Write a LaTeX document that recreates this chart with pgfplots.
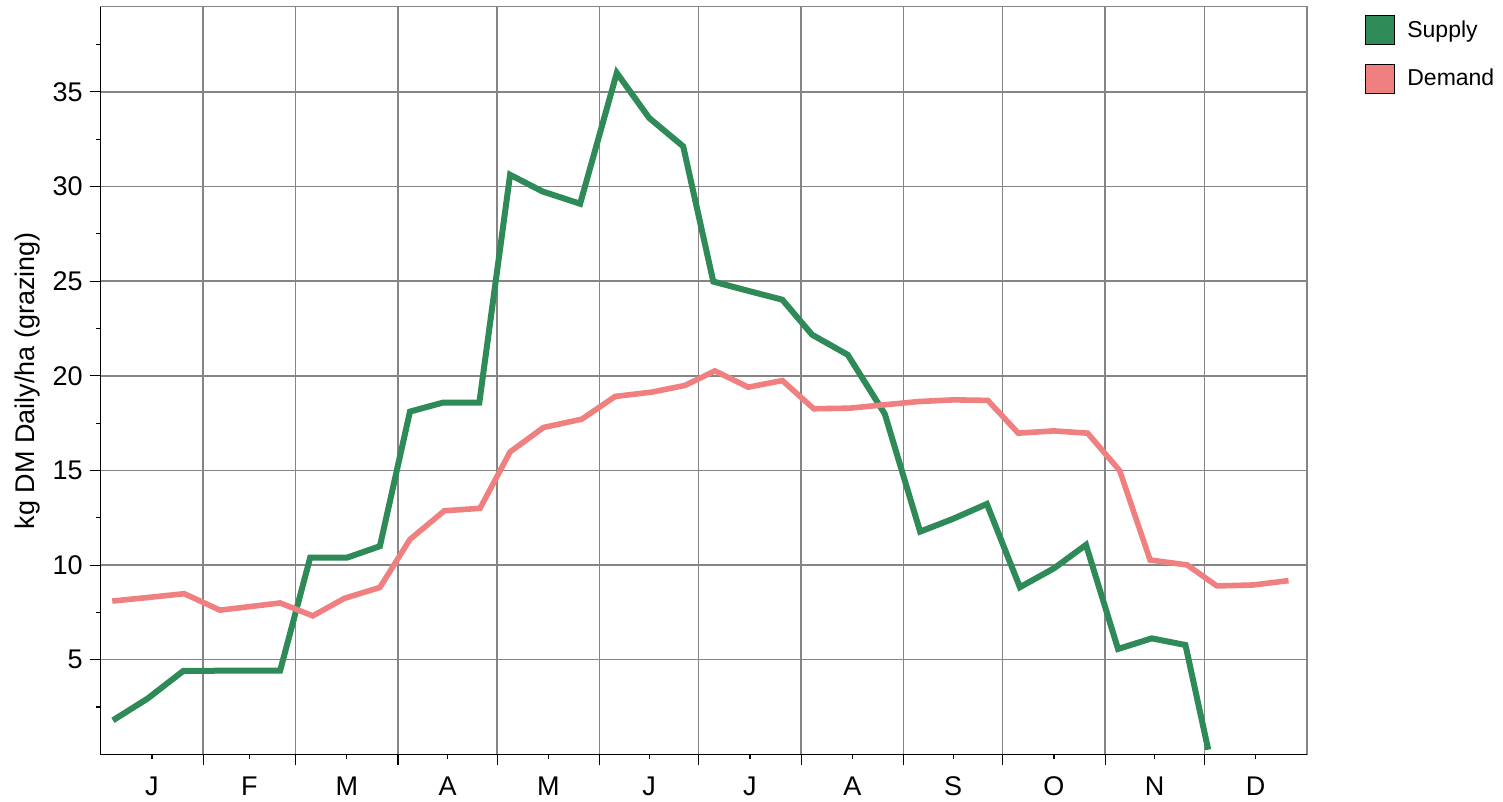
\documentclass[border=0pt]{standalone}
\usepackage{fontspec}
\setmainfont{Liberation Sans}
\usepackage{pgfplots}
\pgfplotsset{compat=1.18}
\definecolor{supply}{RGB}{46,139,87}
\definecolor{demand}{RGB}{240,128,128}
\definecolor{gridgray}{RGB}{133,133,133}
\begin{document}
\begin{tikzpicture}
\useasboundingbox (-50.35pt,-23.8pt) rectangle (701.15pt,377.2pt);
\begin{axis}[
  at={(0,0)}, anchor=south west,
  scale only axis, width=603pt, height=373.85pt,
  xmin=0, xmax=365, ymin=0, ymax=39.5,
  clip=false,
  axis line style={gridgray, line width=0.8pt},
  xtick={31,59,90,120,151,181,212,243,273,304,334},
  xticklabels={},
  extra x ticks={15.5,45,74.5,105,135.5,166,196.5,227.5,258,288.5,319,349.5},
  extra x tick labels={J,F,M,A,M,J,J,A,S,O,N,D},
  extra x tick style={grid=none, major tick length=2.5pt},
  ytick={5,10,...,35},
  minor ytick={2.5,7.5,...,37.5},
  tick align=outside, tick pos=left,
  major tick length=5.5pt, minor tick length=2.5pt,
  tick style={black, line width=0.6pt},
  xmajorgrids, ymajorgrids,
  major grid style={gridgray, line width=0.7pt},
  ticklabel style={font=\fontsize{13.5}{16}\selectfont},
  xticklabel style={yshift=-5pt},
  /pgf/number format/assume math mode=true,
  ylabel={kg DM Daily/ha (grazing)},
  ylabel style={at={(axis description cs:-0.0603,0.5)}, anchor=center, font=\fontsize{13.5}{16}\selectfont},
  legend style={at={(1.0483,0.9889)}, anchor=north west, draw=none, fill=none,
    inner sep=0pt, nodes={inner sep=0pt}, row sep=9.25pt,
    font=\fontsize{11.5}{13}\selectfont,
    /tikz/every odd column/.append style={column sep=6pt}},
  legend cell align=left,
  legend image code/.code={\draw[#1, draw=black, line width=0.5pt, fill] (0pt,-7.25pt) rectangle (14.5pt,7.25pt);},
]
\addplot[supply, line width=3pt] coordinates {
(3.7,1.80) (14.2,2.95) (25.0,4.41) (35.5,4.42) (45.5,4.42) (54.3,4.42)
(63.4,10.39) (74.5,10.39) (84.5,11.00) (93.6,18.11) (103.7,18.59) (114.6,18.59)
(123.9,30.62) (133.7,29.74) (145.1,29.09) (156.2,36.00) (166.0,33.62) (176.3,32.12)
(185.4,24.98) (195.5,24.51) (206.3,24.02) (215.3,22.17) (226.1,21.11) (237.3,17.99)
(248.0,11.77) (257.9,12.44) (268.2,13.23) (278.2,8.83) (288.6,9.84) (298.2,11.07)
(307.9,5.57) (318.1,6.13) (328.3,5.78) (335.2,0.25)
};
\addlegendentry{Supply}
\addplot[demand, line width=2.8pt] coordinates {
(3.5,8.10) (14.3,8.29) (25.3,8.49) (36.1,7.62) (46.2,7.83) (54.3,8.00)
(64.2,7.32) (73.7,8.24) (84.5,8.82) (93.6,11.36) (104.0,12.87) (114.8,13.00)
(123.9,15.98) (134.0,17.27) (145.6,17.71) (155.7,18.91) (166.8,19.14) (176.8,19.49)
(185.9,20.26) (196.0,19.40) (206.3,19.75) (215.8,18.26) (226.6,18.29) (237.3,18.47)
(247.5,18.64) (258.3,18.73) (268.5,18.70) (277.7,16.97) (288.4,17.09) (298.7,16.97)
(308.4,14.99) (317.6,10.27) (328.8,10.01) (337.8,8.90) (348.8,8.95) (359.5,9.18)
};
\addlegendentry{Demand}
\draw[black, line width=0.8pt] (rel axis cs:0,1) -- (rel axis cs:0,0) -- (rel axis cs:1,0);
\end{axis}
\end{tikzpicture}
\end{document}
